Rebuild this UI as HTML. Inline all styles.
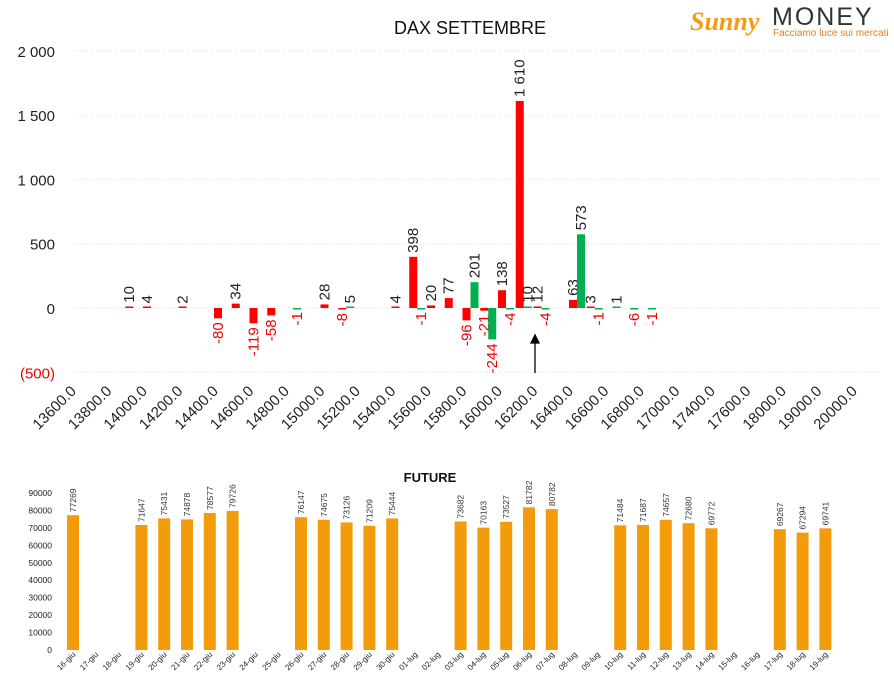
<!DOCTYPE html>
<html><head><meta charset="utf-8"><style>
body{margin:0;background:#fff;font-family:"Liberation Sans","DejaVu Sans",sans-serif}
svg{display:block}
</style></head><body>
<svg id="c" width="894" height="689" xmlns="http://www.w3.org/2000/svg">
<text x="470" y="34" text-anchor="middle" font-size="18" fill="#111">DAX SETTEMBRE</text>
<g>
<text x="690" y="30" font-size="26" font-style="italic" font-weight="bold" fill="#f39c12" font-family="Liberation Serif,serif">Sunny</text>
<text x="772" y="25" font-size="25" fill="#333" letter-spacing="2">MONEY</text>
<text x="773" y="36" font-size="10" fill="#e67e22">Facciamo luce sui mercati</text>
</g>
<text x="430" y="482" text-anchor="middle" font-size="13" font-weight="bold" fill="#111">FUTURE</text>
<g id="topg"></g><g id="botg"></g>
</svg>
<script>
// top chart data
const strikes=[13600,13700,13800,13900,14000,14100,14200,14300,14400,14500,14600,14700,14800,14900,15000,15100,15200,15300,15400,15500,15600,15700,15800,15900,16000,16100,16200,16300,16400,16500,16600,16700,16800,16900,17000,17200,17400,17500,17600,17800,18000,18500,19000,19500,20000];
const redStrikes=[13900,14000,14200,14400,14500,14600,14700,15000,15100,15400,15500,15600,15700,15800,15900,16000,16100,16200,16400,16500];
const redValues=[10,4,2,-80,34,-119,-58,28,-8,4,398,20,77,-96,-21,138,1610,12,63,3];
const greenStrikes=[14800,15100,15500,15800,15900,16000,16100,16200,16400,16500,16600,16700,16800];
const greenValues=[-1,5,-1,201,-244,-4,10,-4,573,-1,1,-6,-1];
const yTicks=[2000,1500,1000,500,0,-500];
const yTickLabels=["2 000","1 500","1 000","500","0","(500)"];
// bottom chart data
const dates=["16-giu","17-giu","18-giu","19-giu","20-giu","21-giu","22-giu","23-giu","24-giu","25-giu","26-giu","27-giu","28-giu","29-giu","30-giu","01-lug","02-lug","03-lug","04-lug","05-lug","06-lug","07-lug","08-lug","09-lug","10-lug","11-lug","12-lug","13-lug","14-lug","15-lug","16-lug","17-lug","18-lug","19-lug"];
const futValues=[77269,null,null,71647,75431,74878,78577,79726,null,null,76147,74675,73126,71209,75444,null,null,73682,70163,73527,81782,80782,null,null,71484,71687,74657,72680,69772,null,null,69267,67294,69741];
const futTicks=[0,10000,20000,30000,40000,50000,60000,70000,80000,90000];

const NS="http://www.w3.org/2000/svg";
function mk(p,t,a){const e=document.createElementNS(NS,t);for(const k in a)e.setAttribute(k,a[k]);p.appendChild(e);return e;}
const topG=document.getElementById('topg'),botG=document.getElementById('botg');
const xc=v=>80+17.75*strikes.indexOf(v);
const yt=v=>308-v*64.3/500;
function fmt(v){const s=String(Math.abs(v));const f=s.length>3?s.slice(0,-3)+' '+s.slice(-3):s;return (v<0?'-':'')+f;}
yTicks.forEach((t,i)=>{
  const g=mk(topG,'line',{x1:75,x2:880,y1:yt(t),y2:yt(t),stroke:'#ddd','stroke-dasharray':'1,2'});
  
  
  const l=mk(topG,'text',{x:55,y:yt(t)+6,'text-anchor':'end','font-size':15,fill:t<0?'#e00':'#222'});
  l.textContent=yTickLabels[i];
  
  
});
strikes.forEach((s,i)=>{
  if(i%2)return;
  const x=xc(s)-3,y=392;
  const l=mk(topG,'text',{x:x,y:y,'text-anchor':'end','font-size':15,fill:'#222',transform:`rotate(-45 ${x} ${y})`});
  l.textContent=s.toFixed(1);
  
  
});
function bars(ss,vs,off,col,name){
  ss.forEach((s,i)=>{
    const v=vs[i],x=xc(s)+off;
    const h=Math.max(Math.abs(yt(v)-yt(0)),1.5);
    const r=mk(topG,'rect',{x:x-4,y:v>=0?yt(0)-h:yt(0),width:8,height:h,fill:col});
    
    
    const ty=v>=0?yt(v)-4:yt(v)+4;
    const tx=x+5;
    const l=mk(topG,'text',{x:tx,y:ty,'text-anchor':v>=0?'start':'end','font-size':15,fill:v>=0?'#222':'#e00',transform:`rotate(-90 ${tx} ${ty})`});
    l.textContent=fmt(v);
    
    
  });
}
bars(redStrikes,redValues,-4,'#f00','red');
bars(greenStrikes,greenValues,4,'#00b050','green');
const ar=mk(topG,'path',{d:'M535 373 V338 M531 343 L535 335 L539 343 Z',stroke:'#000','stroke-width':1.3,fill:'#000'});



// bottom
const xb=i=>73+22.8*i;
const yb=v=>650-v*157/90000;
futTicks.forEach(t=>{
  const l=mk(botG,'text',{x:52,y:yb(t)+3,'text-anchor':'end','font-size':8.5,fill:'#222'});
  l.textContent=t;
  
  
});
dates.forEach((d,i)=>{
  const x=xb(i)+3,y=655;
  const l=mk(botG,'text',{x:x,y:y,'text-anchor':'end','font-size':8,fill:'#222',transform:`rotate(-45 ${x} ${y})`});
  l.textContent=d;
  
  
  const v=futValues[i];
  if(v==null)return;
  const r=mk(botG,'rect',{x:xb(i)-6,y:yb(v),width:12,height:yb(0)-yb(v),fill:'#f39c0b'});
  
  
  const tx=xb(i)+3,ty=yb(v)-3;
  const t=mk(botG,'text',{x:tx,y:ty,'font-size':8.5,fill:'#333',transform:`rotate(-90 ${tx} ${ty})`});
  t.textContent=v;
  
  
});
</script>
</body></html>
